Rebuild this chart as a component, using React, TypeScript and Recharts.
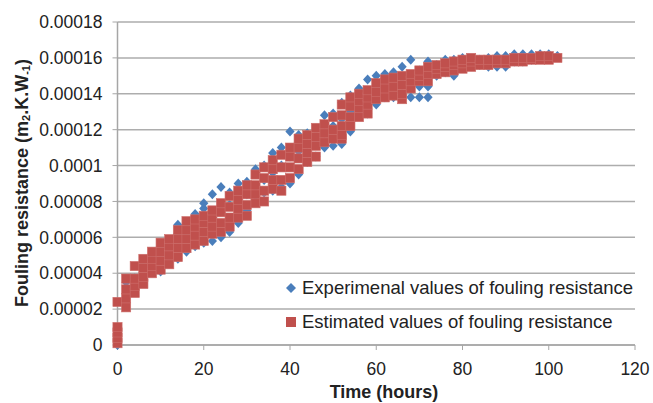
import {
  ScatterChart,
  Scatter,
  XAxis,
  YAxis,
  CartesianGrid,
} from "recharts";

// sampling times (hours)
const hours = [
  0, 2, 4, 6, 8, 10, 12, 14, 16, 18, 20, 22, 24, 26, 28, 30, 32, 34, 36, 38,
  40, 42, 44, 46, 48, 50, 52, 54, 56, 58, 60, 62, 64, 66, 68, 70, 72, 74, 76,
  78, 80, 82, 84, 86, 88, 90, 92, 94, 96, 98, 100, 102,
];

// values, in 1e-6 m2.K/W, one list per time
const experimental = [
  [0], [35], [37], [37, 45], [42, 50], [41, 55], [47, 57], [48, 62, 67],
  [52, 62, 68], [55, 65, 73], [57, 62, 76, 79], [58, 70, 84], [60, 75, 88],
  [63, 78, 85], [68, 80, 90], [75, 84, 91], [80, 88, 98], [85, 92, 100],
  [86, 96, 107], [88, 100, 110], [90, 105, 119], [95, 108, 117],
  [102, 112, 118], [105, 114, 120], [110, 118, 128], [111, 122, 129],
  [112, 126, 135], [119, 130, 139], [129, 135, 143], [129, 140, 148],
  [134, 143, 150], [138, 146, 151], [138, 147, 152], [140, 149, 155],
  [138, 150, 159], [138, 144, 153], [138, 144, 152, 158], [150, 156],
  [152, 159], [150, 159], [155, 160], [156, 159], [156, 159], [155, 160],
  [155, 161], [155, 161], [158, 162], [158, 162], [159, 162], [160, 162],
  [160, 162], [161],
];

const estimated = [
  [1, 4, 7, 10, 24], [21, 26, 31, 37], [29, 33, 37, 44], [34, 38, 43, 48],
  [40, 44, 48, 52], [42, 47, 52, 57], [45, 50, 55, 59], [49, 54, 59, 64],
  [54, 59, 64, 69], [56, 61, 66, 70], [58, 63, 68, 72], [62, 66, 71, 75],
  [63, 68, 74, 79], [66, 71, 77, 83], [71, 76, 81, 86], [72, 78, 84, 89],
  [79, 84, 89, 95], [80, 86, 93, 99], [87, 92, 98, 103], [86, 92, 99, 106],
  [93, 99, 105, 110], [98, 104, 110, 115], [102, 107, 112, 117],
  [105, 111, 116, 121], [113, 118, 123], [115, 120, 127],
  [115, 117, 122, 128, 134], [122, 127, 133, 138], [127, 132, 136, 140],
  [129, 134, 138, 142], [137, 141, 146], [138, 143, 148], [139, 144, 149],
  [137, 140, 145, 150], [143, 147, 151], [147, 150, 153], [147, 151, 155],
  [151, 154, 156], [152, 155, 157], [153, 156, 158], [154, 157, 159],
  [155, 158, 160], [156, 159], [156, 159], [157, 159], [157, 159], [158, 160],
  [158, 160], [159, 160], [159, 161], [159, 161], [160],
];

const xTicks = [0, 20, 40, 60, 80, 100, 120];
const yTicks = [
  0, 0.00002, 0.00004, 0.00006, 0.00008, 0.0001, 0.00012, 0.00014, 0.00016,
  0.00018,
];
const yTickLabels = [
  "0", "0.00002", "0.00004", "0.00006", "0.00008", "0.0001", "0.00012",
  "0.00014", "0.00016", "0.00018",
];

const BLUE = "#4A7EBB";
const RED = "#C0504D";
const FONT = "'Liberation Sans', Arial, sans-serif";

const toPoints = (lists: number[][]) =>
  hours.flatMap((h, i) => lists[i].map((v) => ({ x: h, y: v * 1e-6 })));

const expData = toPoints(experimental);
const estData = toPoints(estimated);

const DiamondShape = (props: any) => {
  const { cx, cy } = props;
  return (
    <polygon
      points={`${cx},${cy - 5} ${cx + 4.6},${cy} ${cx},${cy + 5} ${cx - 4.6},${cy}`}
      fill={BLUE}
    />
  );
};

const SquareShape = (props: any) => {
  const { cx, cy } = props;
  return (
    <rect
      x={cx - 4.6}
      y={cy - 4.6}
      width={9.2}
      height={9.2}
      fill={RED}
      stroke="#CD6E6B"
      strokeWidth={0.6}
    />
  );
};

function ChartLegend() {
  return (
    <div
      style={{
        position: "absolute",
        left: 284,
        top: 271,
        fontFamily: FONT,
        fontSize: 18.5,
        color: "#222",
        whiteSpace: "nowrap",
      }}
    >
      <div style={{ display: "flex", alignItems: "center", height: 34 }}>
        <svg width={14} height={14} style={{ marginRight: 4 }}>
          <polygon points="7,2 12,7 7,12 2,7" fill={BLUE} />
        </svg>
        Experimenal values of fouling resistance
      </div>
      <div style={{ display: "flex", alignItems: "center", height: 34 }}>
        <svg width={14} height={14} style={{ marginRight: 4 }}>
          <rect x={2} y={2} width={10} height={10} fill={RED} />
        </svg>
        Estimated values of fouling resistance
      </div>
    </div>
  );
}

export default function App() {
  return (
    <div
      style={{
        position: "absolute",
        left: 0,
        top: 0,
        width: 653,
        height: 403,
        background: "#fff",
      }}
    >
      <ScatterChart
        width={653}
        height={403}
        margin={{ top: 22, right: 18, bottom: 0, left: 0 }}
      >
        <CartesianGrid vertical={false} stroke="#ADADAD" strokeWidth={1.5} />
        <XAxis
          type="number"
          dataKey="x"
          domain={[0, 120]}
          ticks={xTicks}
          interval={0}
          axisLine={{ stroke: "#A6A6A6", strokeWidth: 1.5 }}
          tickLine={{ stroke: "#A6A6A6" }}
          tickSize={5}
          tickMargin={13}
          tick={{ fill: "#222", fontSize: 17.5, fontFamily: FONT }}
          height={58}
          label={() => (
            <text
              x={384}
              y={392}
              textAnchor="middle"
              dominantBaseline="central"
              fontFamily={FONT}
              fontWeight="bold"
              fontSize={18}
              fill="#222"
            >
              Time (hours)
            </text>
          )}
        />
        <YAxis
          type="number"
          dataKey="y"
          domain={[0, 0.00018]}
          ticks={yTicks}
          interval={0}
          width={117.5}
          axisLine={{ stroke: "#A6A6A6", strokeWidth: 1.5 }}
          tickLine={{ stroke: "#A6A6A6" }}
          tickSize={5}
          tickMargin={10}
          tick={{ fill: "#222", fontSize: 17.5, fontFamily: FONT }}
          tickFormatter={(v: number) =>
            yTickLabels[yTicks.indexOf(v)] ?? String(v)
          }
          label={() => (
            <text
              x={22}
              y={183}
              transform="rotate(-90, 22, 183)"
              textAnchor="middle"
              dominantBaseline="central"
              fontFamily={FONT}
              fontWeight="bold"
              fontSize={18}
              fill="#222"
            >
              Fouling resistance (m
              <tspan fontSize={11} dy={4}>2</tspan>
              <tspan dy={-4}>.K.W</tspan>
              <tspan fontSize={11} dy={4}>-1</tspan>
              <tspan dy={-4}>)</tspan>
            </text>
          )}
        />
        <Scatter
          name="Experimenal values of fouling resistance"
          data={expData}
          fill={BLUE}
          shape={DiamondShape}
          isAnimationActive={false}
        />
        <Scatter
          name="Estimated values of fouling resistance"
          data={estData}
          fill={RED}
          shape={SquareShape}
          isAnimationActive={false}
        />
      </ScatterChart>
      <ChartLegend />
    </div>
  );
}
